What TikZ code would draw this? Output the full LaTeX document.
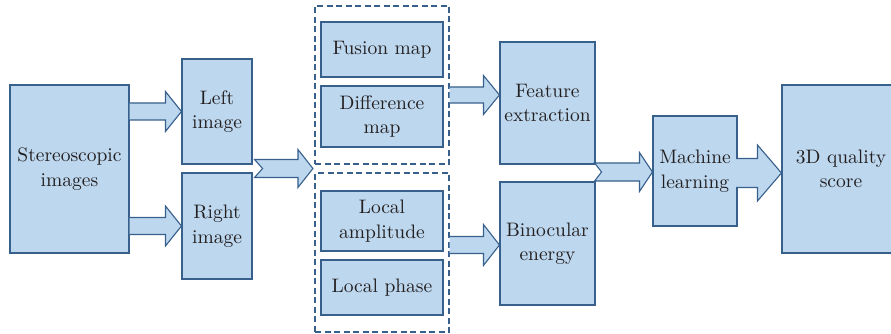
\documentclass[tikz,border=0pt]{standalone}
\usepackage{fontspec}
\setmainfont{lmroman10-regular}[Extension=.otf]
\usetikzlibrary{calc}

\definecolor{boxfill}{RGB}{189,215,238}
\definecolor{boxline}{RGB}{56,96,140}
\definecolor{inktext}{RGB}{35,31,32}

% Block arrow with an open (unstroked) tail: tail point, tip point,
% half width of the shaft, half width of the head, length of the head
\newcommand\openarrow[5]{%
  \fill[boxfill] let \p1=(#1), \p2=(#2) in
    (\x1,{\y2+#3}) -- ({\x2-#5},{\y2+#3}) -- ({\x2-#5},{\y2+#4}) -- (\x2,\y2)
    -- ({\x2-#5},{\y2-#4}) -- ({\x2-#5},{\y2-#3}) -- (\x1,{\y2-#3}) -- cycle;
  \draw[arrowline] let \p1=(#1), \p2=(#2) in
    (\x1,{\y2+#3}) -- ({\x2-#5},{\y2+#3}) -- ({\x2-#5},{\y2+#4}) -- (\x2,\y2)
    -- ({\x2-#5},{\y2-#4}) -- ({\x2-#5},{\y2-#3}) -- (\x1,{\y2-#3});}

% Block arrow with a notched tail; the sixth argument is the notch depth
\newcommand\notcharrow[6]{%
  \filldraw[arrowline, fill=boxfill] let \p1=(#1), \p2=(#2) in
    (\x1,{\y2+#3}) -- ({\x2-#5},{\y2+#3}) -- ({\x2-#5},{\y2+#4}) -- (\x2,\y2)
    -- ({\x2-#5},{\y2-#4}) -- ({\x2-#5},{\y2-#3}) -- (\x1,{\y2-#3})
    -- ({\x1+#6},\y2) -- cycle;}

\begin{document}
\begin{tikzpicture}[x=1pt, y=-1pt,
  blk/.style={draw=boxline, fill=boxfill, line width=1.1pt, inner sep=0pt,
    align=center, text=inktext, font=\fontsize{19.5}{24.5}\selectfont},
  grp/.style={draw=boxline, line width=1.1pt, dash pattern=on 6pt off 3.5pt,
    inner sep=0pt},
  arrowline/.style={draw=boxline, line width=1.1pt, line join=miter}]

\useasboundingbox (0,0) rectangle (891,334);
\clip (0,0) rectangle (891,334);

% input and the two views
\node[blk, minimum width=119, minimum height=168] (stereo) at (69.5,169) {Stereoscopic\\images};
\node[blk, minimum width=70, minimum height=105] (left) at (217,111.5) {Left\\image};
\node[blk, minimum width=70, minimum height=106] (right) at (217,226) {Right\\image};

% dashed groups of intermediate maps
\node[grp, minimum width=134, minimum height=158] (grpA) at (382,85) {};
\node[grp, minimum width=134, minimum height=159] (grpB) at (382,252.5) {};
\node[blk, minimum width=122, minimum height=55] (fusion) at (382,49.5) {Fusion map};
\node[blk, minimum width=122, minimum height=61] (diff) at (382,116.5) {Difference\\map};
\node[blk, minimum width=122, minimum height=60] (amp) at (382,221) {Local\\amplitude};
\node[blk, minimum width=122, minimum height=55] (phase) at (382,287.5) {Local phase};

% features, learning, output
\node[blk, minimum width=95, minimum height=122] (feat) at (547.5,103) {Feature\\extraction};
\node[blk, minimum width=95, minimum height=123] (bino) at (547.5,243.5) {Binocular\\energy};
\node[blk, minimum width=84, minimum height=110] (ml) at (695,171) {Machine\\learning};
\node[blk, minimum width=118, minimum height=168] (score) at (841,169) {3D quality\\score};

% connector end points
\coordinate (a1s) at (stereo.east |- left.center);
\coordinate (a2s) at (stereo.east |- right.center);
\coordinate (a3e) at ($(grpA.south west)!0.5!(grpB.north west)+(-1.5,0)$);
\coordinate (a3s) at ($(left.east |- a3e)+(2,0)$);
\coordinate (a4e) at ($(feat.west)+(0,-8)$);
\coordinate (a4s) at (grpA.east |- a4e);
\coordinate (a5e) at ($(bino.west)+(0,1.5)$);
\coordinate (a5s) at (grpB.east |- a5e);
\coordinate (a6e) at ($(ml.west)+(0,1)$);
\coordinate (a6s) at ($(feat.east |- a6e)+(-1,0)$);
\coordinate (a7e) at ($(score.west)+(0,4)$);
\coordinate (a7s) at ($(ml.east |- a7e)+(-1.5,0)$);

% block arrows
\openarrow{a1s}{left.west}{8.5pt}{20pt}{16pt}
\openarrow{a2s}{right.west}{8.5pt}{20pt}{16pt}
\notcharrow{a3s}{a3e}{9pt}{19pt}{15pt}{8pt}
\openarrow{a4s}{a4e}{8pt}{19.5pt}{16pt}
\openarrow{a5s}{a5e}{8.5pt}{20.5pt}{16pt}
\notcharrow{a6s}{a6e}{9pt}{19.5pt}{13pt}{7pt}
\openarrow{a7s}{a7e}{14.5pt}{28pt}{24pt}
\end{tikzpicture}
\end{document}
